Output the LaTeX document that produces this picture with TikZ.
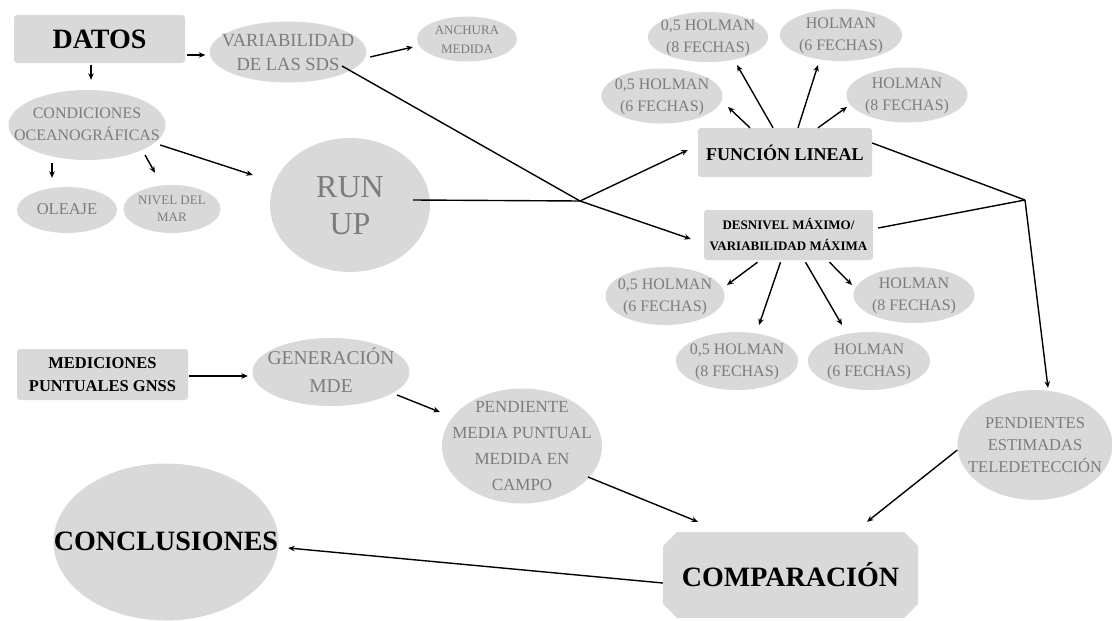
\documentclass[tikz,border=0pt]{standalone}
\usepackage{fontspec}
\setmainfont{Liberation Serif}
\usetikzlibrary{arrows.meta,shapes.geometric,shapes.misc}
\definecolor{fondogris}{HTML}{D9D9D9}
\definecolor{textogris}{HTML}{7C7C7C}
\newcommand{\tam}[2]{\fontsize{#1}{#2}\selectfont}
\newcommand{\enburbuja}[1]{\makebox[0pt]{\raisebox{-0.3em}[0pt][0pt]{\begin{tabular}{@{}c@{}}#1\end{tabular}}}}
\tikzstyle{caja} = [rectangle, rounded corners=3pt, fill=fondogris, inner sep=0pt, align=center, text=black]
\tikzstyle{burbuja} = [ellipse, fill=fondogris, inner sep=0pt, text=textogris]
\tikzstyle{linea} = [line width=1.4pt]
\tikzstyle{flecha} = [linea, -{Stealth[length=6.5pt,width=5.5pt]}]

\begin{document}
\begin{tikzpicture}[x=1pt,y=-1pt]
\useasboundingbox (0,0) rectangle (1112,621);

\node (datos) [caja, minimum width=171pt, minimum height=48pt, font=\bfseries\tam{28}{30}] at (99.5,39) {DATOS};
\node (var) [burbuja, minimum width=157pt, minimum height=61pt, font=\tam{18.5}{24}] at (288,52) {\enburbuja{VARIABILIDAD\\DE LAS SDS}};
\node (anchura) [burbuja, minimum width=100pt, minimum height=45pt, font=\tam{13}{19}] at (467,39) {\enburbuja{ANCHURA\\MEDIDA}};
\node (cond) [burbuja, minimum width=157pt, minimum height=70pt, font=\tam{16}{22}] at (87,125) {\enburbuja{CONDICIONES\\OCEANOGRÁFICAS}};
\node (oleaje) [burbuja, minimum width=100pt, minimum height=46pt, font=\tam{16.5}{20}] at (67,210) {\enburbuja{OLEAJE}};
\node (nivel) [burbuja, minimum width=97pt, minimum height=48pt, font=\tam{13}{17}] at (172,209) {\enburbuja{NIVEL DEL\\MAR}};
\node (runup) [burbuja, minimum width=160pt, minimum height=134pt, font=\tam{32}{37}] at (350,205) {\enburbuja{RUN\\UP}};

\node (funcion) [caja, minimum width=174pt, minimum height=49pt, font=\bfseries\tam{18}{22}] at (785,152.5) {FUNCIÓN LINEAL};
\node (fmed6) [burbuja, minimum width=121pt, minimum height=55pt, font=\tam{16}{22}] at (662,96) {\enburbuja{0,5 HOLMAN\\(6 FECHAS)}};
\node (fmed8) [burbuja, minimum width=120pt, minimum height=50pt, font=\tam{16}{22}] at (708,37) {\enburbuja{0,5 HOLMAN\\(8 FECHAS)}};
\node (fent6) [burbuja, minimum width=122pt, minimum height=52pt, font=\tam{16}{22}] at (841,35) {\enburbuja{HOLMAN\\(6 FECHAS)}};
\node (fent8) [burbuja, minimum width=121pt, minimum height=55pt, font=\tam{16}{22}] at (907,95) {\enburbuja{HOLMAN\\(8 FECHAS)}};

\node (desnivel) [caja, minimum width=169pt, minimum height=50pt, font=\bfseries\tam{13}{21}] at (788.5,235) {DESNIVEL MÁXIMO/\\VARIABILIDAD MÁXIMA};
\node (dmed6) [burbuja, minimum width=119pt, minimum height=58pt, font=\tam{16}{22}] at (665,296) {\enburbuja{0,5 HOLMAN\\(6 FECHAS)}};
\node (dmed8) [burbuja, minimum width=122pt, minimum height=58pt, font=\tam{16}{22}] at (737,361) {\enburbuja{0,5 HOLMAN\\(8 FECHAS)}};
\node (dent6) [burbuja, minimum width=122pt, minimum height=58pt, font=\tam{16}{22}] at (869,361) {\enburbuja{HOLMAN\\(6 FECHAS)}};
\node (dent8) [burbuja, minimum width=121pt, minimum height=56pt, font=\tam{16}{22}] at (914,295) {\enburbuja{HOLMAN\\(8 FECHAS)}};

\node (mediciones) [caja, minimum width=171pt, minimum height=51pt, font=\bfseries\tam{16.5}{23}] at (102.5,374.5) {MEDICIONES\\PUNTUALES GNSS};
\node (generacion) [burbuja, minimum width=157pt, minimum height=68pt, font=\tam{19.5}{28}] at (331,372) {\enburbuja{GENERACIÓN\\MDE}};
\node (pendiente) [burbuja, minimum width=160pt, minimum height=115pt, font=\tam{17}{26}] at (522,446) {\enburbuja{PENDIENTE\\MEDIA PUNTUAL\\MEDIDA EN\\CAMPO}};
\node (estimadas) [burbuja, minimum width=155pt, minimum height=110pt, font=\tam{16.5}{22}] at (1035,445) {\enburbuja{PENDIENTES\\ESTIMADAS\\TELEDETECCIÓN}};
\node (comparacion) [chamfered rectangle, chamfered rectangle xsep=7pt, chamfered rectangle ysep=7pt, fill=fondogris, inner sep=0pt, minimum width=255pt, minimum height=86pt, font=\bfseries\tam{28}{30}] at (790.5,575) {COMPARACIÓN};
\node (conclusiones) [burbuja, text=black, minimum width=225pt, minimum height=157pt, font=\bfseries\tam{28}{30}] at (166,542) {\enburbuja{CONCLUSIONES}};

\coordinate (j1) at (580,201);
\coordinate (j2) at (1025,200);

\draw[flecha] ([shift={(2,16)}]datos.east) -- ([shift={(-4,3)}]var.west);
\draw[flecha] ([shift={(3.5,5)}]var.east) -- ([shift={(-4,8)}]anchura.west);
\draw[flecha] ([shift={(-8.5,2)}]datos.south) -- ([shift={(4,-10)}]cond.north);
\draw[flecha] ([shift={(-35,3)}]cond.south) -- ([shift={(-15,-9)}]oleaje.north);
\draw[flecha] ([shift={(58,30)}]cond.center) -- ([shift={(-17,-12)}]nivel.north);
\draw[flecha] ([shift={(-5.5,20)}]cond.east) -- ([shift={(-17,-30)}]runup.west);

\draw[linea] ([shift={(-17,-5)}]runup.east) -- (j1);
\draw[linea] ([shift={(54,14)}]var.center) -- (j1);
\draw[flecha] (j1) -- ([shift={(-10,-2.5)}]funcion.west);
\draw[flecha] (j1) -- ([shift={(-13,4)}]desnivel.west);

\draw[flecha] ([shift={(-35,0)}]funcion.north) -- ([shift={(66,11)}]fmed6.center);
\draw[flecha] ([shift={(-12,0)}]funcion.north) -- ([shift={(29,28)}]fmed8.center);
\draw[flecha] ([shift={(13,0)}]funcion.north) -- ([shift={(-23,30)}]fent6.center);
\draw[flecha] ([shift={(33,0)}]funcion.north) -- ([shift={(-60,12)}]fent8.center);

\draw[flecha] ([shift={(-31,2)}]desnivel.south) -- ([shift={(62,-11)}]dmed6.center);
\draw[flecha] ([shift={(-8,2)}]desnivel.south) -- ([shift={(22,-36)}]dmed8.center);
\draw[flecha] ([shift={(17,2)}]desnivel.south) -- ([shift={(-27,-36)}]dent6.center);
\draw[flecha] ([shift={(41,2)}]desnivel.south) -- ([shift={(-62,-10)}]dent8.center);

\draw[linea] ([shift={(0,-9.5)}]funcion.east) -- (j2);
\draw[linea] ([shift={(5,-7)}]desnivel.east) -- (j2);
\draw[flecha] (j2) -- ([shift={(13,-2)}]estimadas.north);

\draw[flecha] ([shift={(1,1.5)}]mediciones.east) -- ([shift={(-4.5,4)}]generacion.west);
\draw[flecha] ([shift={(66,23)}]generacion.center) -- ([shift={(-2,-34)}]pendiente.west);
\draw[flecha] ([shift={(66,31)}]pendiente.center) -- ([shift={(-92.5,-10)}]comparacion.north);
\draw[flecha] ([shift={(0,5)}]estimadas.west) -- ([shift={(76.5,-10)}]comparacion.north);
\draw[flecha] ([shift={(0,8)}]comparacion.west) -- ([shift={(9.5,6)}]conclusiones.east);
\end{tikzpicture}
\end{document}
